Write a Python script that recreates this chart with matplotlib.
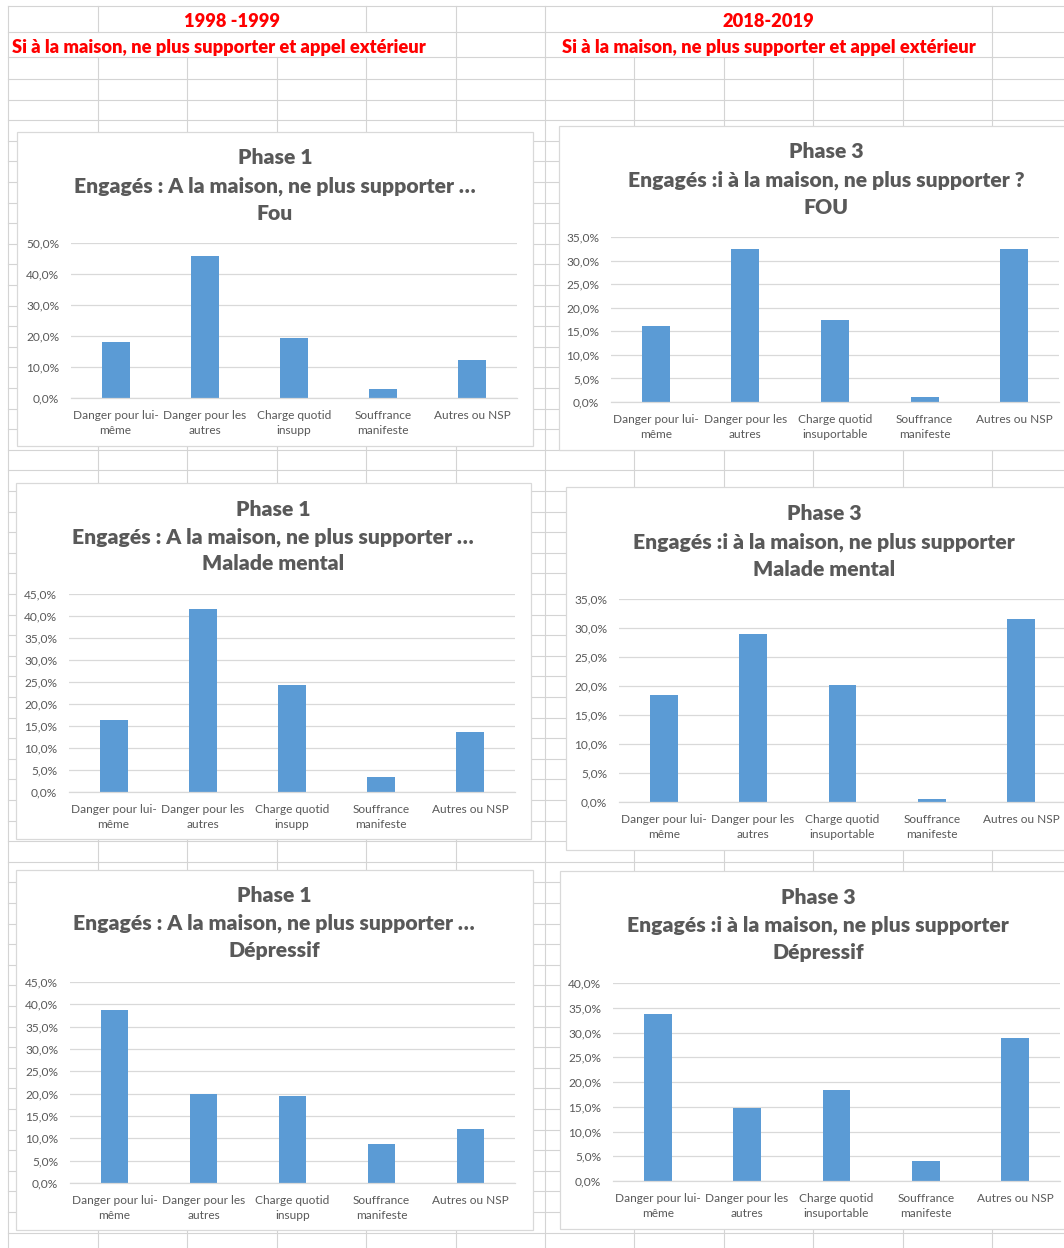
import matplotlib
matplotlib.use("Agg")
import matplotlib.pyplot as plt
from matplotlib.lines import Line2D
from matplotlib.patches import Rectangle
from matplotlib.ticker import FuncFormatter, MultipleLocator

# ---------------------------------------------------------------- data
cats_phase1 = ["Danger pour lui-\nmême", "Danger pour les\nautres",
               "Charge quotid\ninsupp", "Souffrance\nmanifeste", "Autres ou NSP"]
cats_phase3 = ["Danger pour lui-\nmême", "Danger pour les\nautres",
               "Charge quotid\ninsuportable", "Souffrance\nmanifeste", "Autres ou NSP"]

fou_1998 = [18.0, 45.9, 19.5, 2.8, 12.2]
fou_2018 = [16.2, 32.5, 17.5, 1.0, 32.5]
malade_1998 = [16.3, 41.6, 24.3, 3.4, 13.7]
malade_2018 = [18.4, 29.0, 20.1, 0.5, 31.6]
depressif_1998 = [38.7, 19.9, 19.5, 8.7, 12.0]
depressif_2018 = [33.8, 14.7, 18.4, 4.0, 28.9]

header_years = ["1998 -1999", "2018-2019"]
header_subtitle = "Si à la maison, ne plus supporter et appel extérieur"

titles = [
    ["Phase 1", "Engagés : A la maison, ne plus supporter …", "Fou"],
    ["Phase 3", "Engagés :i à la maison, ne plus supporter ?", "FOU"],
    ["Phase 1", "Engagés : A la maison, ne plus supporter …", "Malade mental"],
    ["Phase 3", "Engagés :i à la maison, ne plus supporter", "Malade mental"],
    ["Phase 1", "Engagés : A la maison, ne plus supporter …", "Dépressif"],
    ["Phase 3", "Engagés :i à la maison, ne plus supporter", "Dépressif"],
]
series = [fou_1998, fou_2018, malade_1998, malade_2018, depressif_1998, depressif_2018]
categories = [cats_phase1, cats_phase3, cats_phase1, cats_phase3, cats_phase1, cats_phase3]
y_max = [50, 35, 45, 35, 45, 40]
y_step = [10, 5, 5, 5, 5, 5]

# ---------------------------------------------------------------- layout (pixels)
W, H = 1064, 1248
# chart frame (x0, y0, x1, y1), plot area (x0, x1, y_top, y_zero), title centre x, title line ys
layout = [
    dict(box=(17, 132, 533, 446), plot=(71, 517, 243, 398), tx=275, ty=(158, 186, 214)),
    dict(box=(559, 126, 1075, 450), plot=(611, 1059, 237, 402), tx=826, ty=(152, 180, 207)),
    dict(box=(16, 483, 531, 839), plot=(69, 515, 594, 792), tx=273, ty=(509, 537, 564)),
    dict(box=(566, 487, 1075, 850), plot=(619, 1066, 599, 802), tx=824, ty=(514, 542, 570)),
    dict(box=(16, 870, 533, 1230), plot=(70, 515, 982, 1183), tx=274, ty=(895, 923, 951)),
    dict(box=(560, 871, 1075, 1229), plot=(613, 1060, 983, 1181), tx=818, ty=(897, 925, 952)),
]

FONT = "Lato"
BAR = "#5B9BD5"
TXT = "#595959"
GRID = "#D9D9D9"
SHEET = "#D4D4D4"

plt.rcParams["font.family"] = [FONT, "DejaVu Sans"]

fig = plt.figure(figsize=(W / 100, H / 100), dpi=100)
renderer = fig.canvas.get_renderer()


def fx(x):
    return x / W


def fy(y):
    return 1 - y / H


def fitted_size(text, target_px, **kw):
    t = fig.text(0, 0, text, fontsize=10, **kw)
    w = t.get_window_extent(renderer).width
    t.remove()
    return 10 * target_px / w


# ---------------------------------------------------------------- spreadsheet grid
def hline(y, x0=8, x1=W):
    fig.add_artist(Line2D([fx(x0), fx(x1)], [fy(y), fy(y)], transform=fig.transFigure,
                          color=SHEET, lw=0.8, zorder=-3))


def vline(x, y0, y1):
    fig.add_artist(Line2D([fx(x), fx(x)], [fy(y0), fy(y1)], transform=fig.transFigure,
                          color=SHEET, lw=0.8, zorder=-3))


rows = [6, 32, 57]
y = 79.0
while y < H:
    rows.append(y)
    y += 20.6
for r in rows:
    hline(r)

cols = [98 + 89.4 * k for k in range(11)]
vline(8, 6, H)
for i, c in enumerate(cols):
    if i in (0, 3, 4, 5, 10):
        vline(c, 6, 32)
    if i in (4, 5, 10):
        vline(c, 32, 57)
    vline(c, 57, H)

# ---------------------------------------------------------------- red headers
HW = "heavy"
hdr_size = fitted_size(header_subtitle, 414, fontweight=HW)
fig.text(fx(232), fy(21.5), header_years[0], color="#FF0000", fontweight=HW,
         fontsize=hdr_size, ha="center", va="center")
fig.text(fx(768.5), fy(21.5), header_years[1], color="#FF0000", fontweight=HW,
         fontsize=hdr_size, ha="center", va="center")
fig.text(fx(12), fy(47.5), header_subtitle, color="#FF0000", fontweight=HW,
         fontsize=hdr_size, ha="left", va="center")
fig.text(fx(769), fy(47.5), header_subtitle, color="#FF0000", fontweight=HW,
         fontsize=hdr_size, ha="center", va="center")

# ---------------------------------------------------------------- charts
title_size = fitted_size(titles[0][1], 404, fontweight=HW)
label_size = fitted_size("Danger pour les", 83)

pct = FuncFormatter(lambda v, _: f"{v:.1f}%".replace(".", ","))

for vals, cats, ttl, ymax, step, lay in zip(series, categories, titles, y_max, y_step, layout):
    bx0, by0, bx1, by1 = lay["box"]
    fig.add_artist(Rectangle((fx(bx0), fy(by1)), (bx1 - bx0) / W, (by1 - by0) / H,
                             transform=fig.transFigure, facecolor="white",
                             edgecolor=GRID, lw=0.9, zorder=-1))
    for line, ty in zip(ttl, lay["ty"]):
        fig.text(fx(lay["tx"]), fy(ty), line, color=TXT, fontweight=HW,
                 fontsize=title_size, ha="center", va="center", zorder=3)

    px0, px1, ptop, pzero = lay["plot"]
    ax = fig.add_axes([fx(px0), fy(pzero), (px1 - px0) / W, (pzero - ptop) / H])
    ax.patch.set_alpha(0)
    ax.bar(range(len(vals)), vals, width=0.313, color=BAR, zorder=2)
    ax.set_xlim(-0.5, len(vals) - 0.5)
    ax.set_ylim(0, ymax)
    ax.yaxis.set_major_locator(MultipleLocator(step))
    ax.yaxis.set_major_formatter(pct)
    ax.set_xticks(range(len(cats)))
    ax.set_xticklabels(cats, linespacing=1.42)
    ax.grid(axis="y", color=GRID, lw=0.9, zorder=0)
    ax.set_axisbelow(True)
    for s in ("top", "right", "left"):
        ax.spines[s].set_visible(False)
    ax.spines["bottom"].set_color(GRID)
    ax.spines["bottom"].set_linewidth(0.9)
    ax.tick_params(axis="both", length=0, colors=TXT, labelsize=label_size)
    ax.tick_params(axis="y", pad=8.5)
    ax.tick_params(axis="x", pad=8.5)

fig.savefig("out.png", dpi=100)
